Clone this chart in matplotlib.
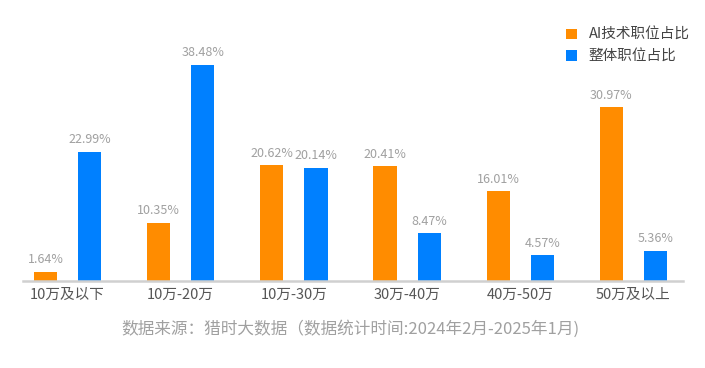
import matplotlib
matplotlib.use('Agg')
import matplotlib.pyplot as plt
import numpy as np

plt.rcParams['font.family'] = ['Noto Sans CJK SC', 'DejaVu Sans']

# salary ranges and shares (%)
categories = ['10万及以下', '10万-20万', '10万-30万', '30万-40万', '40万-50万', '50万及以上']
ai_share = [1.64, 10.35, 20.62, 20.41, 16.01, 30.97]
all_share = [22.99, 38.48, 20.14, 8.47, 4.57, 5.36]
series_names = ['AI技术职位占比', '整体职位占比']

orange = '#FF8C00'
blue = '#0080FF'

fig = plt.figure(figsize=(7.05, 3.68), dpi=100)
ax = fig.add_axes([23 / 705, 1 - 281 / 368, 660 / 705, 266 / 368])

x = np.arange(len(categories))
b1 = ax.bar(x - 0.195, ai_share, width=0.205, color=orange, label=series_names[0])
b2 = ax.bar(x + 0.195, all_share, width=0.205, color=blue, label=series_names[1])

#value labels above the bars
for bars in (b1, b2):
	for rect in bars:
		h = rect.get_height()
		ax.annotate('%.2f%%' % h, (rect.get_x() + rect.get_width() / 2, h),
			xytext=(0, 4), textcoords='offset points', ha='center', va='bottom',
			fontsize=9, color='#A0A0A0')

ax.set_xlim(-0.393, 5.437)
ax.set_ylim(0, 266 / 5.613)
ax.set_xticks(x)
ax.set_xticklabels(categories, fontsize=10.5, color='#555555', fontweight='medium')
ax.tick_params(axis='x', length=0, pad=5)
ax.set_yticks([])
for s in ['top', 'right', 'left']:
	ax.spines[s].set_visible(False)
ax.spines['bottom'].set_color('#D0D0D0')
ax.spines['bottom'].set_linewidth(1.8)

ax.legend(loc='upper left', bbox_to_anchor=(553 / 705, 1 - 15 / 368), bbox_transform=fig.transFigure,
	frameon=False, fontsize=10.5, handlelength=0.75, handleheight=0.75, handletextpad=0.8,
	labelspacing=0.5, labelcolor='#444444')

fig.text(350 / 705, 1 - 329 / 368, '数据来源：猎时大数据（数据统计时间:2024年2月-2025年1月)',
	ha='center', va='center', fontsize=12, color='#A0A0A0')

plt.savefig('out.png', dpi=100)
